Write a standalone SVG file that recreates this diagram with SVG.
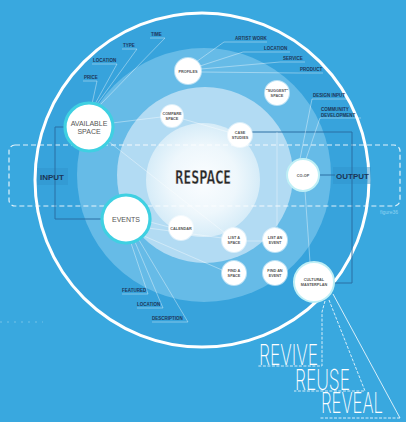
<svg xmlns="http://www.w3.org/2000/svg" width="406" height="422" viewBox="0 0 406 422">
<defs>
<radialGradient id="core" cx="0.5" cy="0.5" r="0.5">
<stop offset="0" stop-color="#fbfdff"/>
<stop offset="0.6" stop-color="#eef7fc"/>
<stop offset="1" stop-color="#d6ecf8"/>
</radialGradient>
<style>
.lbl{font-family:'Liberation Sans',Arial,sans-serif;font-weight:bold;font-size:4.5px;fill:#1d3557}
.nt{font-family:'Liberation Sans',Arial,sans-serif;font-weight:bold;font-size:3.8px;fill:#555;text-anchor:middle}
.bt{font-family:'Liberation Sans',Arial,sans-serif;font-size:7px;fill:#555;text-anchor:middle}
.io{font-family:'Liberation Sans',Arial,sans-serif;font-weight:bold;font-size:8px;fill:#1b3556}
.ln{stroke:#ffffff;stroke-opacity:0.55;stroke-width:0.7;fill:none}
.dk{stroke:#2a6fa3;stroke-width:1;fill:none}
.big{fill:#fff;stroke:#3fd0e2;stroke-width:3.2}
.sm{fill:#fff;stroke:#ffffff;stroke-opacity:0.55;stroke-width:2}
.mid{fill:#fff;stroke:#bfeff6;stroke-width:2}
.rv{font-family:Inter,Roboto,'DejaVu Sans',sans-serif;font-weight:200;font-size:29px;fill:#fff}
.dsh{stroke:#fff;stroke-width:0.8;stroke-dasharray:3 1.5;fill:none}
</style>
</defs>
<rect width="406" height="422" fill="#39a8df"/>
<g id="rings">
<circle cx="202" cy="180" r="167" fill="#37a3dc"/>
<circle cx="204" cy="175" r="127" fill="#66bbe7"/>
<circle cx="205" cy="175" r="88" fill="#b2dbf3"/>
<circle cx="203" cy="180" r="57" fill="url(#core)"/>
<circle cx="202" cy="180" r="167" fill="none" stroke="#ffffff" stroke-width="3"/>
</g>
<rect x="9" y="145" width="391" height="61" rx="6" fill="none" stroke="#fff" stroke-opacity="0.85" stroke-width="1.2" stroke-dasharray="5 3"/>
<rect x="37" y="168" width="31" height="17" fill="#2f93cb" opacity="0.5"/>
<rect x="333" y="167" width="38" height="17" fill="#2f93cb" opacity="0.5"/>
<line x1="0" y1="322" x2="43" y2="322" stroke="#fff" stroke-opacity="0.5" stroke-width="0.6" stroke-dasharray="2 5"/>
<g id="connectors">
<polyline class="dk" points="65,127 55,127 55,219 102,219"/>
<polyline class="dk" points="252,132 352,132 352,283 334,283"/>
<line class="dk" x1="319" y1="175" x2="335" y2="175"/>
<polyline class="ln" points="150,38 165,38 100,105"/>
<polyline class="ln" points="122,49 137,49 97,104"/>
<polyline class="ln" points="92,64 117,64 95,104"/>
<polyline class="ln" points="83,81 97,81 92,104"/>
<polyline class="ln" points="196,62 224,42 267,42"/>
<polyline class="ln" points="200,66 243,52 290,52"/>
<polyline class="ln" points="201,69 280,62 305,62"/>
<polyline class="ln" points="201,72 298,73 323,73"/>
<polyline class="ln" points="348,99 312,99 300,159"/>
<polyline class="ln" points="361,118 320,118 306,159"/>
<line class="ln" x1="112" y1="123" x2="161" y2="117"/>
<line class="ln" x1="183" y1="119" x2="228" y2="132"/>
<line class="ln" x1="108" y1="141" x2="225" y2="233"/>
<line class="ln" x1="277" y1="132" x2="277" y2="228"/>
<line class="ln" x1="246" y1="241" x2="263" y2="241"/>
<line class="ln" x1="305" y1="191" x2="310" y2="262"/>
<line class="ln" x1="150" y1="222" x2="169" y2="227"/>
<line class="ln" x1="148" y1="228" x2="222" y2="238"/>
<line class="ln" x1="144" y1="236" x2="222" y2="270"/>
<polyline class="ln" points="131,243 148,294 122,294"/>
<polyline class="ln" points="135,242 163,308 137,308"/>
<polyline class="ln" points="139,240 188,322 152,322"/>
<polyline class="dsh" points="325,301 322,312 322,366 257,366"/>
<polyline class="dsh" points="329,300 365,391 294,391"/>
<line x1="333" y1="294" x2="400" y2="418" stroke="#fff" stroke-width="0.8"/>
<line class="dsh" x1="400" y1="418" x2="320" y2="418"/>
</g>
<g id="available-space"><circle class="big" cx="89" cy="127" r="24"/><text class="bt" x="89" y="126">AVAILABLE</text><text class="bt" x="89" y="134">SPACE</text></g>
<g id="events"><circle class="big" cx="126" cy="219" r="24"/><text class="bt" x="126" y="222">EVENTS</text></g>
<g id="profiles"><circle class="sm" cx="188" cy="71" r="13"/><text class="nt" x="188" y="72.5">PROFILES</text></g>
<g id="suggest-space"><circle class="sm" cx="277" cy="93" r="12"/><text class="nt" x="277" y="92">"SUGGEST"</text><text class="nt" x="277" y="97">SPACE</text></g>
<g id="compare-space"><circle class="sm" cx="172" cy="116" r="11"/><text class="nt" x="172" y="115">COMPARE</text><text class="nt" x="172" y="120">SPACE</text></g>
<g id="case-studies"><circle class="sm" cx="240" cy="135" r="12"/><text class="nt" x="240" y="134">CASE</text><text class="nt" x="240" y="139">STUDIES</text></g>
<g id="co-op"><circle class="mid" cx="303" cy="175" r="16"/><text class="nt" x="303" y="176.5">CO-OP</text></g>
<g id="calendar"><circle class="sm" cx="181" cy="228" r="12"/><text class="nt" x="181" y="229.5">CALENDAR</text></g>
<g id="list-a-space"><circle class="sm" cx="234" cy="240" r="12"/><text class="nt" x="234" y="239">LIST A</text><text class="nt" x="234" y="244">SPACE</text></g>
<g id="list-an-event"><circle class="sm" cx="275" cy="240" r="12"/><text class="nt" x="275" y="239">LIST AN</text><text class="nt" x="275" y="244">EVENT</text></g>
<g id="find-a-space"><circle class="sm" cx="234" cy="273" r="12"/><text class="nt" x="234" y="272">FIND A</text><text class="nt" x="234" y="277">SPACE</text></g>
<g id="find-an-event"><circle class="sm" cx="275" cy="273" r="12"/><text class="nt" x="275" y="272">FIND AN</text><text class="nt" x="275" y="277">EVENT</text></g>
<g id="cultural-masterplan"><circle class="mid" cx="314" cy="282" r="20"/><text class="nt" x="314" y="281">CULTURAL</text><text class="nt" x="314" y="286">MASTERPLAN</text></g>
<g id="labels">
<text class="lbl" x="151" y="36">TIME</text>
<text class="lbl" x="123" y="47">TYPE</text>
<text class="lbl" x="93" y="62">LOCATION</text>
<text class="lbl" x="84" y="79">PRICE</text>
<text class="lbl" x="235" y="40">ARTIST WORK</text>
<text class="lbl" x="264" y="50">LOCATION</text>
<text class="lbl" x="283" y="60">SERVICE</text>
<text class="lbl" x="300" y="71">PRODUCT</text>
<text class="lbl" x="313" y="97">DESIGN INPUT</text>
<text class="lbl" x="321" y="111">COMMUNITY</text>
<text class="lbl" x="321" y="116.5">DEVELOPMENT</text>
<text class="lbl" x="122" y="292">FEATURED</text>
<text class="lbl" x="137" y="306">LOCATION</text>
<text class="lbl" x="152" y="320">DESCRIPTION</text>
<text class="io" x="40" y="180">INPUT</text>
<text class="io" x="336" y="179">OUTPUT</text>
<text x="380" y="214" font-family="'Liberation Sans',Arial,sans-serif" font-size="5" fill="#8fd3f2">figure36</text>
<text x="175" y="184" font-family="'DejaVu Sans',sans-serif" font-weight="bold" font-size="19" fill="#262626" stroke="#ffffff" stroke-width="0.5" textLength="56" lengthAdjust="spacingAndGlyphs">RESPACE</text>
<text class="rv" x="259" y="365" textLength="59" lengthAdjust="spacingAndGlyphs">REVIVE</text>
<text class="rv" x="295" y="390" textLength="55" lengthAdjust="spacingAndGlyphs">REUSE</text>
<text class="rv" x="321" y="413" textLength="62" lengthAdjust="spacingAndGlyphs">REVEAL</text>
</g>
</svg>
